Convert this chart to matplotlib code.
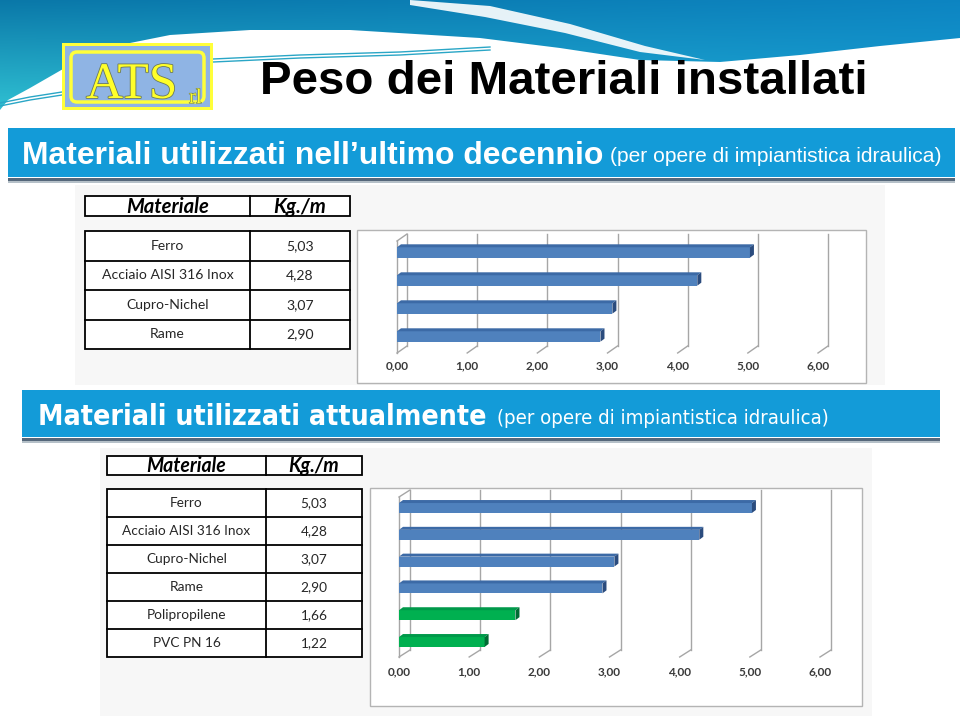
import numpy as np
import matplotlib
matplotlib.use("Agg")
import matplotlib.pyplot as plt
import matplotlib.patheffects as pe
from matplotlib.patches import Rectangle, Polygon, FancyBboxPatch
from matplotlib import font_manager as fm

W, H = 960, 716

# --- data -------------------------------------------------------------
materiali_decennio = ["Ferro", "Acciaio AISI 316 Inox", "Cupro-Nichel", "Rame"]
pesi_decennio = [5.03, 4.28, 3.07, 2.90]
tipo_decennio = ["metallo", "metallo", "metallo", "metallo"]

materiali_attuali = ["Ferro", "Acciaio AISI 316 Inox", "Cupro-Nichel", "Rame",
                     "Polipropilene", "PVC PN 16"]
pesi_attuali = [5.03, 4.28, 3.07, 2.90, 1.66, 1.22]
tipo_attuali = ["metallo", "metallo", "metallo", "metallo", "plastica", "plastica"]

x_ticks = [0, 1, 2, 3, 4, 5, 6]

FRONT = {"metallo": "#4f81bd", "plastica": "#00b050"}
TOP = {"metallo": "#3c6aa6", "plastica": "#00994a"}
SIDE = {"metallo": "#2b4c7e", "plastica": "#006b33"}

BLUE = "#139bd8"
fonts = fm.fontManager.ttflist
names = {f.name for f in fonts}
TAB = "Lato" if "Lato" in names else "DejaVu Sans"
# narrow face for the second banner (Arial Narrow look)
if "Liberation Sans Narrow" in names:
    NARROW = dict(family="Liberation Sans Narrow")
elif any(f.name == "DejaVu Sans" and f.stretch == "condensed" for f in fonts):
    NARROW = dict(family="DejaVu Sans", stretch="condensed")
else:
    NARROW = dict(family="Liberation Sans")


def fmt(v):
    return f"{v:.2f}".replace(".", ",")


fig = plt.figure(figsize=(W / 100, H / 100), dpi=100)
fig.patch.set_facecolor("white")
bg = fig.add_axes([0, 0, 1, 1])
bg.axis("off")

# header wave (gradient clipped by a polygon)
ny, nx = 120, 240
t = np.linspace(0, 1, ny)[:, None, None]
s = np.linspace(0, 1, nx)[None, :, None]
c_top = np.array([0.04, 0.47, 0.66]) * (1 - s) + np.array([0.05, 0.52, 0.76]) * s
c_bot = np.array([0.20, 0.78, 0.84]) * (1 - s) + np.array([0.10, 0.64, 0.84]) * s
rgb = c_top * (1 - t) + c_bot * t
im = bg.imshow(rgb, extent=[0, W, 120, 0], aspect="auto", zorder=1)
wave_pts = [(0, 0), (W, 0), (960, 38), (880, 46), (800, 55), (720, 62), (640, 60),
            (560, 48), (480, 38), (350, 30), (250, 30), (170, 35), (120, 45),
            (70, 65), (30, 88), (8, 100), (0, 110)]
wave = Polygon(wave_pts, closed=True, fc="none", ec="none")
bg.add_patch(wave)
im.set_clip_path(wave)
swoosh = Polygon([(410, 0), (490, 6), (570, 24), (645, 46), (705, 60),
                  (640, 52), (565, 33), (485, 17), (410, 5)],
                 closed=True, fc="white", ec="none", alpha=0.9, zorder=2)
bg.add_patch(swoosh)
for off in (0, 3):
    bg.plot([213, 300, 400, 490], [59 + off, 55 + off, 52 + off, 47 + off],
            color="#2aa6c6", lw=1.0, zorder=2)
    bg.plot([0, 30, 62], [103 + off, 97 + off, 92 + off], color="#2aa6c6", lw=1.0, zorder=2)

bg.set_xlim(0, W)
bg.set_ylim(H, 0)
bg.set_autoscale_on(False)
renderer = fig.canvas.get_renderer()


def fit_text(x, y, s, width, size=20, ha="left", va="baseline", **kw):
    txt = bg.text(x, y, s, fontsize=size, ha=ha, va=va, **kw)
    w = txt.get_window_extent(renderer=renderer).width
    txt.set_fontsize(size * width / w)
    return txt


# logo
bg.add_patch(Rectangle((62, 43), 151, 67, fc="#ffff3a", ec="none", zorder=3))
bg.add_patch(Rectangle((65, 46), 145, 61, fc="#8fb4e4", ec="none", zorder=3))
bg.add_patch(FancyBboxPatch((71, 52), 133, 50, boxstyle="round,pad=0,rounding_size=6",
                            fc="none", ec="#ffff3a", lw=2.5, zorder=4))
bg.text(86, 98, "ATS", fontsize=37, family="Liberation Serif", color="#ffff2a",
        va="baseline", zorder=5,
        path_effects=[pe.withStroke(linewidth=1.2, foreground="#6b7a5a")])
bg.text(189, 103, "rl", fontsize=15, family="Liberation Serif", color="#ffff2a",
        va="baseline", zorder=5,
        path_effects=[pe.withStroke(linewidth=0.8, foreground="#6b7a5a")])

# title
fit_text(260, 94, "Peso dei Materiali installati", 605, family="Liberation Sans",
         weight="bold", color="black", zorder=5)

# banner 1
bg.add_patch(Rectangle((8, 128), 947, 49, fc=BLUE, ec="none", zorder=3))
bg.add_patch(Rectangle((8, 178), 947, 3, fc="#55677a", ec="none", zorder=3))
bg.add_patch(Rectangle((8, 181), 947, 2, fc="#b5c0c8", ec="none", zorder=3))
fit_text(22, 164, "Materiali utilizzati nell\u2019ultimo decennio", 579,
         family="Liberation Sans", weight="bold", color="white", zorder=5)
fit_text(610, 162, "(per opere di impiantistica idraulica)", 332,
         family="Liberation Sans", color="white", zorder=5)

# banner 2
bg.add_patch(Rectangle((22, 390), 918, 47, fc=BLUE, ec="none", zorder=3))
bg.add_patch(Rectangle((22, 438), 918, 3, fc="#55677a", ec="none", zorder=3))
bg.add_patch(Rectangle((22, 441), 918, 2, fc="#b5c0c8", ec="none", zorder=3))
fit_text(38, 425, "Materiali utilizzati attualmente", 449,
         weight="bold", color="white", zorder=5, **NARROW)
fit_text(497, 424, "(per opere di impiantistica idraulica)", 331,
         color="white", zorder=5, **NARROW)

# light panels behind the pasted tables/charts
bg.add_patch(Rectangle((75, 185), 810, 200, fc="#f7f7f7", ec="none", zorder=1))
bg.add_patch(Rectangle((100, 448), 772, 268, fc="#f7f7f7", ec="none", zorder=1))


def draw_table(xl, xm, xr, head, body, mats, vals, name_w, head_w):
    lw = 1.3
    bg.add_patch(Rectangle((xl, head[0]), xr - xl, head[1] - head[0],
                           fc="white", ec="black", lw=lw, zorder=3))
    bg.plot([xm, xm], head, color="black", lw=lw, zorder=4)
    hy = (head[0] + head[1]) / 2 + 1
    th = fit_text((xl + xm) / 2, hy, "Materiale", head_w, ha="center", va="center",
                  family=TAB, weight="bold", style="italic", color="black", zorder=5)
    bg.text((xm + xr) / 2, hy, "Kg./m", fontsize=th.get_fontsize(), ha="center",
            va="center", family=TAB, weight="bold", style="italic", color="black", zorder=5)

    rows = np.linspace(body[0], body[1], len(mats) + 1)
    bg.add_patch(Rectangle((xl, body[0]), xr - xl, body[1] - body[0],
                           fc="white", ec="black", lw=lw, zorder=3))
    for yy in rows[1:-1]:
        bg.plot([xl, xr], [yy, yy], color="black", lw=lw, zorder=4)
    bg.plot([xm, xm], body, color="black", lw=lw, zorder=4)
    probe = fit_text(0, -50, max(mats, key=len), name_w, family=TAB)
    fs = probe.get_fontsize()
    probe.remove()
    for i, (m, v) in enumerate(zip(mats, vals)):
        yc = (rows[i] + rows[i + 1]) / 2
        bg.text((xl + xm) / 2, yc, m, fontsize=fs, family=TAB, ha="center",
                va="center", color="#262626", zorder=5)
        bg.text((xm + xr) / 2, yc, fmt(v), fontsize=fs, family=TAB, ha="center",
                va="center", color="#262626", zorder=5)


draw_table(85, 250, 350, (196, 216), (231, 349), materiali_decennio, pesi_decennio, 131, 83)
draw_table(107, 266, 362, (456, 475), (489, 657), materiali_attuali, pesi_attuali, 128, 80)

# chart frames
bg.add_patch(Rectangle((357, 230), 509, 153, fc="white", ec="#b4b4b4", lw=1, zorder=2))
bg.add_patch(Rectangle((370, 488), 492, 218, fc="white", ec="#b4b4b4", lw=1, zorder=2))


def px_rect(x0, y0, x1, y1):
    return [x0 / W, 1 - y1 / H, (x1 - x0) / W, (y1 - y0) / H]


def draw_chart(rect, vals, kinds, ylim, depth, pad):
    ax = fig.add_axes(px_rect(*rect))
    ax.set_xlim(0, 6)
    ax.set_ylim(*ylim)
    ax.patch.set_visible(False)
    for sp in ax.spines.values():
        sp.set_visible(False)
    bb = ax.get_window_extent(renderer=renderer)
    xu = 6 / bb.width
    yu = (ylim[1] - ylim[0]) / bb.height
    dx, dy = depth[0] * xu, depth[1] * yu
    y0, y1 = ylim
    g = dict(color="#a6a6a6", lw=1.0, zorder=1, clip_on=False)
    for k in x_ticks:
        ax.plot([k + dx, k + dx], [y0 + dy, y1 + dy], **g)
        ax.plot([k, k + dx], [y0, y0 + dy], **g)
    ax.plot([0, 0], [y0, y1], **g)
    ax.plot([0, dx], [y1, y1 + dy], **g)

    n = len(vals)
    ypos = np.arange(n)[::-1]
    h = 0.37
    ax.barh(ypos, vals, height=h, color=[FRONT[k] for k in kinds], zorder=3)
    bdx, bdy = 4 * xu, 3 * yu
    for yc, v, k in zip(ypos, vals, kinds):
        yb, yt = yc - h / 2, yc + h / 2
        ax.add_patch(Polygon([(0, yt), (v, yt), (v + bdx, yt + bdy), (bdx, yt + bdy)],
                             fc=TOP[k], ec="none", zorder=3, clip_on=False))
        ax.add_patch(Polygon([(v, yb), (v + bdx, yb + bdy), (v + bdx, yt + bdy), (v, yt)],
                             fc=SIDE[k], ec="none", zorder=3, clip_on=False))
    ax.set_yticks([])
    ax.set_xticks(x_ticks)
    ax.set_xticklabels([fmt(x) for x in x_ticks], family=TAB, weight="bold",
                       fontsize=8.5, color="#3a3a3a")
    ax.tick_params(axis="x", length=0, pad=pad)
    return ax


draw_chart((397, 241, 818, 353), pesi_decennio, tipo_decennio, (-0.59, 3.41), (10, 7), 5)
draw_chart((399, 497, 820, 657), pesi_attuali, tipo_attuali, (-0.56, 5.41), (11, 7), 7)

fig.savefig("out.png", dpi=100)
